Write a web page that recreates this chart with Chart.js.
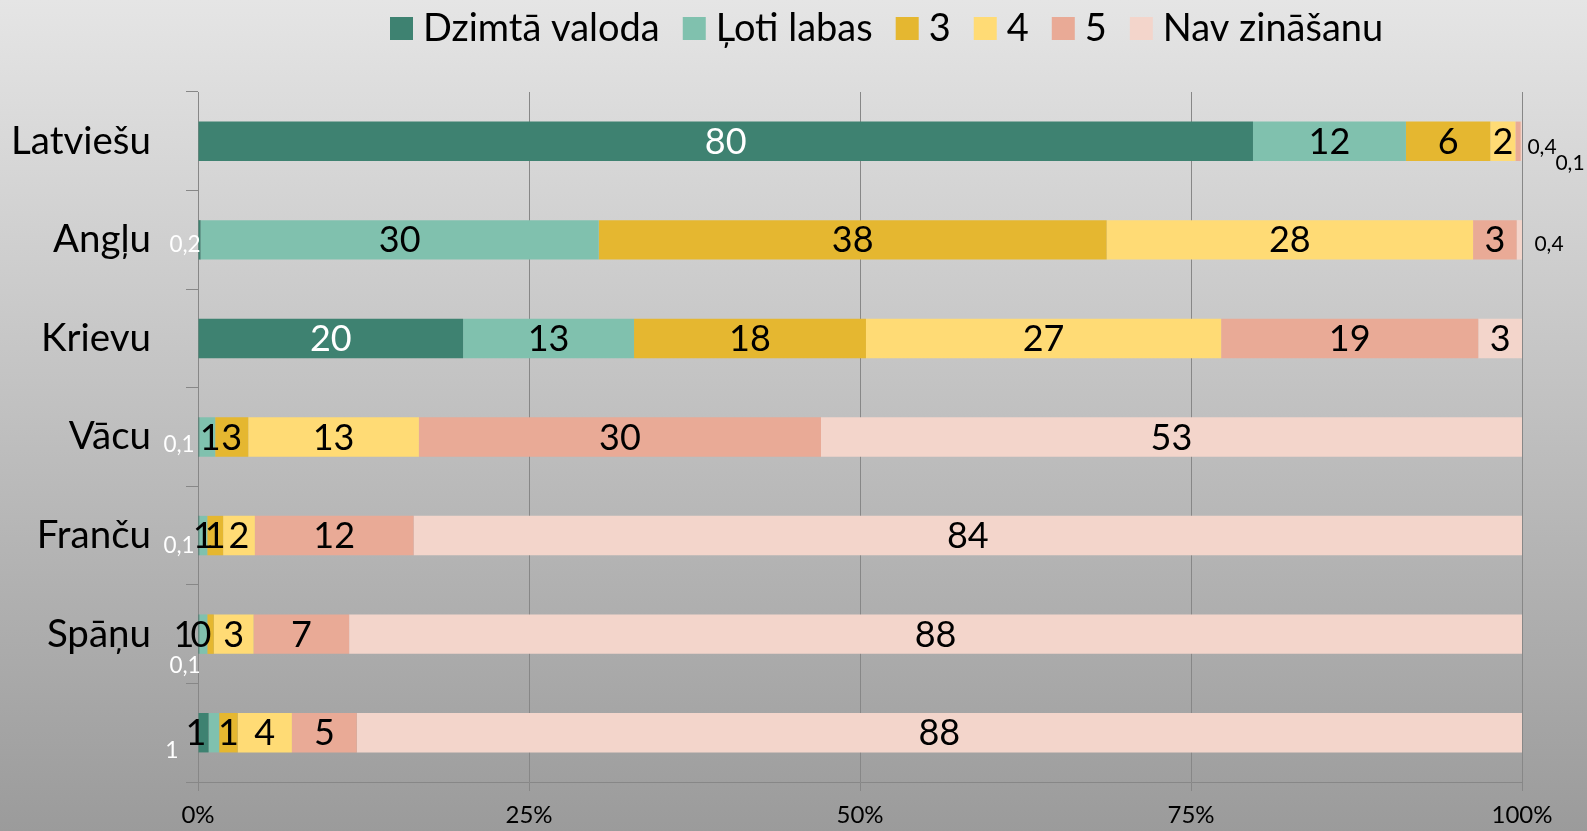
<!DOCTYPE html>
<html>
<head>
<meta charset="utf-8">
<script src="https://cdn.jsdelivr.net/npm/chart.js@4.4.1/dist/chart.umd.min.js"></script>
<style>
  html, body { margin: 0; padding: 0; }
  body { width: 1587px; height: 831px; overflow: hidden;
         background: linear-gradient(to bottom, #e5e5e5 0%, #9b9b9b 100%); }
  #wrap { position: relative; width: 1587px; height: 831px; }
</style>
</head>
<body>
<div id="wrap"><canvas id="c"></canvas></div>
<script>
// ---- data ----
const categories = ['Latviešu', 'Angļu', 'Krievu', 'Vācu', 'Franču', 'Spāņu', ''];
const seriesNames = ['Dzimtā valoda', 'Ļoti labas', '3', '4', '5', 'Nav zināšanu'];
const dzimtaValoda = [80, 0.2, 20, 0.1, 0.1, 0.1, 0.8];
const lotiLabas    = [11.6, 30.1, 12.9, 1.2, 0.6, 0.6, 0.8];
const vertejums3   = [6.4, 38.4, 17.5, 2.5, 1.2, 0.49, 1.4];
const vertejums4   = [1.9, 27.7, 26.8, 12.9, 2.4, 3.0, 4.1];
const vertejums5   = [0.4, 3.3, 19.4, 30.4, 12.0, 7.2, 4.9];
const navZinasanu  = [0.1, 0.4, 3.3, 53.0, 83.8, 88.4, 88.1];
const xTickValues  = [0, 25, 50, 75, 100];

// ---- styles ----
const seriesValues = [dzimtaValoda, lotiLabas, vertejums3, vertejums4, vertejums5, navZinasanu];
const seriesColors = ['#3e8271', '#80c1ae', '#e5b730', '#ffdb75', '#e9aa96', '#f3d5cb'];
const labelColors  = ['#ffffff', '#000000', '#000000', '#000000', '#000000', '#000000'];
const FONT = 'Lato';
const gridColor = '#878787';

// row totals -> 100% stacking
const rowTotals = categories.map((_, i) => seriesValues.reduce((s, arr) => s + arr[i], 0));

// label placement tweaks (row-series)
const tweaks = {
  '0-4': { x: 1542, y: 146, size: 21 },
  '0-5': { x: 1570, y: 162, size: 21 },
  '1-0': { x: 185, y: 244, size: 22.5 },
  '1-5': { x: 1549, y: 243, size: 21 },
  '3-0': { x: 179, y: 444, size: 22.5 },
  '3-1': { dx: 3 },
  '4-0': { x: 179, y: 545, size: 22.5 },
  '5-0': { x: 185, y: 665, size: 22.5 },
  '5-1': { x: 184 },
  '5-2': { x: 201 },
  '6-0': { x: 172, y: 750, size: 23 },
  '6-1': { x: 196 }
};

function fmt(v) {
  return v < 0.45 ? v.toFixed(1).replace('.', ',') : String(Math.round(v));
}

const datasets = seriesNames.map((name, s) => ({
  label: name,
  data: seriesValues[s].map((v, i) => v / rowTotals[i] * 100),
  raw: seriesValues[s],
  backgroundColor: seriesColors[s],
  borderWidth: 0,
  categoryPercentage: 1,
  barPercentage: 0.4
}));

const labelPlugin = {
  id: 'segLabels',
  afterDatasetsDraw(chart) {
    const ctx = chart.ctx;
    ctx.save();
    ctx.textAlign = 'center';
    ctx.textBaseline = 'middle';
    chart.data.datasets.forEach((ds, s) => {
      const meta = chart.getDatasetMeta(s);
      meta.data.forEach((el, i) => {
        const t = tweaks[i + '-' + s] || {};
        let x = (el.x + el.base) / 2 + (t.dx || 0);
        let y = el.y + (t.dy || 0);
        if (t.x !== undefined) x = t.x;
        if (t.y !== undefined) y = t.y;
        ctx.font = (t.size || 36) + 'px ' + FONT;
        ctx.fillStyle = labelColors[s];
        ctx.fillText(fmt(ds.raw[i]), x, y + 1);
      });
    });
    ctx.restore();
  }
};

const legendPlugin = {
  id: 'customLegend',
  afterDraw(chart) {
    const ctx = chart.ctx;
    ctx.save();
    ctx.font = '38px ' + FONT;
    ctx.textBaseline = 'middle';
    ctx.textAlign = 'left';
    let x = 390;
    chart.data.datasets.forEach((ds) => {
      ctx.fillStyle = ds.backgroundColor;
      ctx.fillRect(x, 17, 23, 23);
      ctx.fillStyle = '#000000';
      ctx.fillText(ds.label, x + 33, 29);
      x += 33 + ctx.measureText(ds.label).width + 23;
    });
    ctx.restore();
  }
};

new Chart(document.getElementById('c'), {
  type: 'bar',
  data: { labels: categories, datasets },
  plugins: [labelPlugin, legendPlugin],
  options: {
    indexAxis: 'y',
    responsive: true,
    maintainAspectRatio: false,
    animation: false,
    layout: { padding: { top: 92, right: 65, left: 0, bottom: 0 } },
    plugins: { legend: { display: false }, tooltip: { enabled: false } },
    scales: {
      x: {
        stacked: true, min: 0, max: 100,
        afterBuildTicks(scale) { scale.ticks = xTickValues.map(v => ({ value: v })); },
        afterFit(scale) { scale.height = 49; },
        ticks: { callback: v => v + '%', color: '#000', font: { family: FONT, size: 24 }, padding: 10, maxRotation: 0 },
        grid: { color: gridColor, tickLength: 9, drawOnChartArea: true },
        border: { display: true, color: gridColor, width: 1 }
      },
      y: {
        stacked: true,
        afterFit(scale) { scale.width = 198; scale.paddingTop = 0; scale.paddingBottom = 0; },
        ticks: { color: '#000', font: { family: FONT, size: 38.5 }, padding: 35 },
        grid: { color: gridColor, tickLength: 12, drawOnChartArea: false, offset: true },
        border: { display: true, color: gridColor, width: 1 }
      }
    }
  }
});
</script>
</body>
</html>
